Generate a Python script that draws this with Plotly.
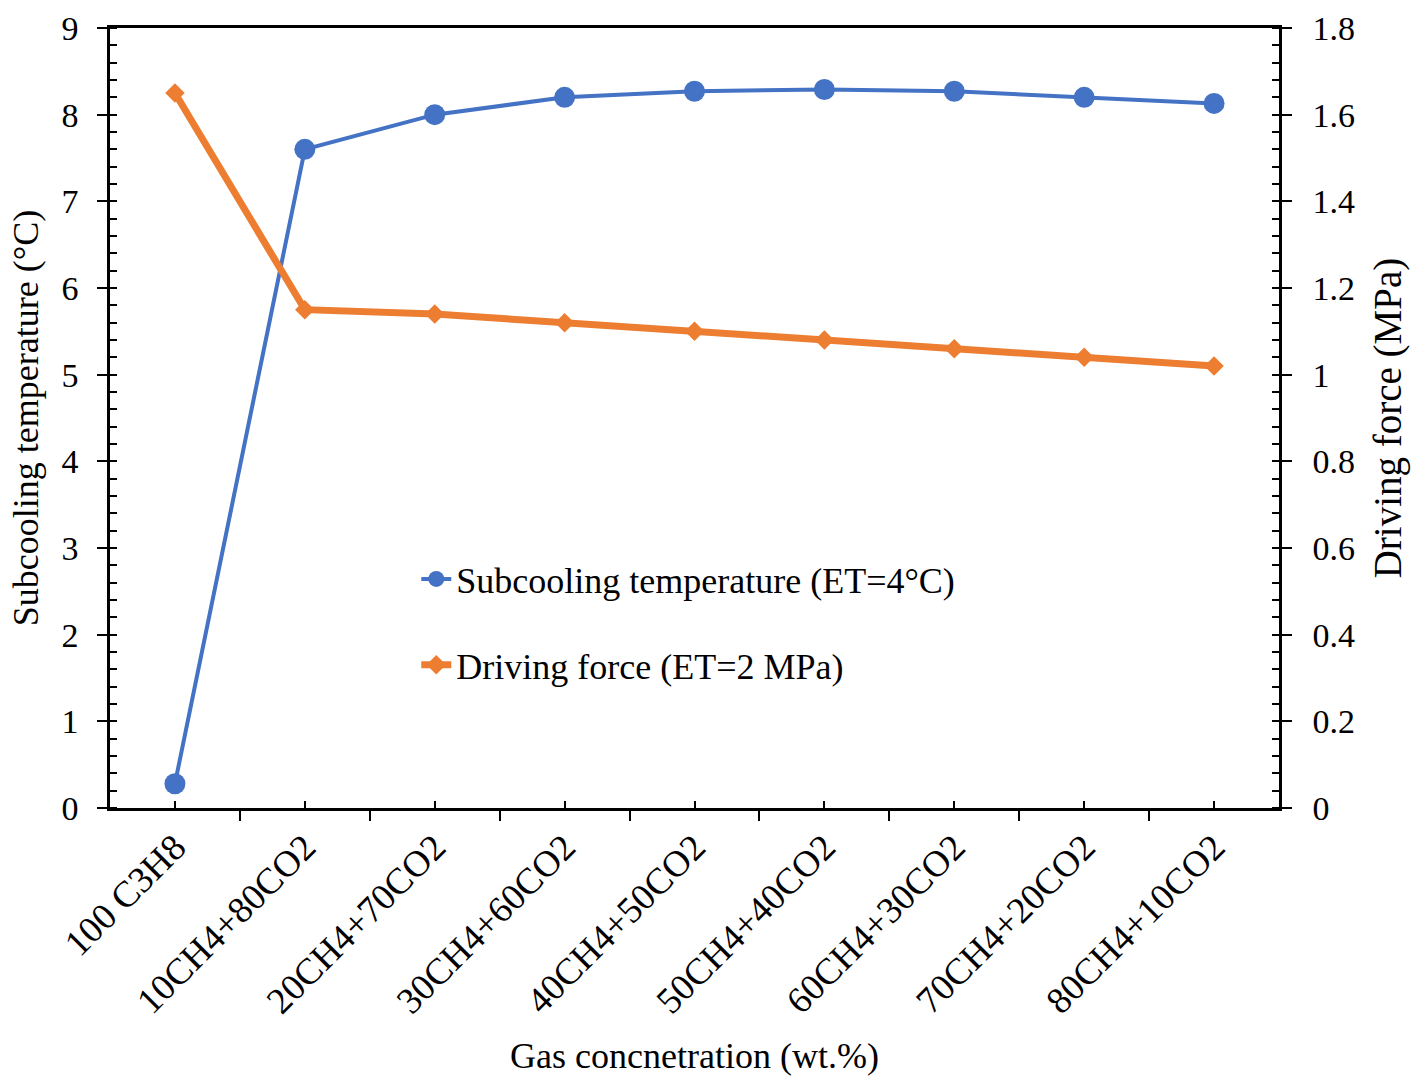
import plotly.graph_objects as go

categories = ["100 C3H8", "10CH4+80CO2", "20CH4+70CO2", "30CH4+60CO2", "40CH4+50CO2",
              "50CH4+40CO2", "60CH4+30CO2", "70CH4+20CO2", "80CH4+10CO2"]
subcooling = [0.28, 7.60, 8.00, 8.20, 8.27, 8.29, 8.27, 8.20, 8.13]
driving_force = [1.65, 1.15, 1.14, 1.12, 1.10, 1.08, 1.06, 1.04, 1.02]

xpos = list(range(len(categories)))
FONT = "Liberation Serif, Times New Roman, serif"

fig = go.Figure()
fig.add_trace(go.Scatter(
    x=xpos, y=subcooling, mode="lines+markers",
    name="Subcooling temperature (ET=4°C)",
    line=dict(color="#4472C4", width=4),
    marker=dict(symbol="circle", size=21, color="#4472C4"),
    legendgroup="a",
))
fig.add_trace(go.Scatter(
    x=xpos, y=driving_force, mode="lines+markers", yaxis="y2",
    name="Driving force (ET=2 MPa)",
    line=dict(color="#ED7D31", width=7),
    marker=dict(symbol="diamond", size=15, color="#ED7D31"),
    legendgroup="b",
))

fig.update_layout(
    width=1413, height=1076,
    margin=dict(l=110, r=134, t=28, b=268, pad=0, autoexpand=False),
    paper_bgcolor="white", plot_bgcolor="white",
    font=dict(family=FONT, size=34, color="black"),
    showlegend=True,
    legend=dict(x=0.262, y=0.332, xanchor="left", yanchor="top",
                font=dict(family=FONT, size=36, color="black"),
                bgcolor="rgba(0,0,0,0)", tracegroupgap=36, itemwidth=30),
    xaxis=dict(
        range=[-0.5, 8.5], tickmode="array", tickvals=xpos, ticktext=categories,
        tickangle=-45, ticks="inside", ticklen=7, tickwidth=2, tickcolor="black",
        minor=dict(tickmode="array", tickvals=[i - 0.5 for i in range(len(categories) + 1)],
                   ticks="outside", ticklen=10, tickwidth=2, tickcolor="black"),
        showline=True, linecolor="black", linewidth=2.5, mirror=True,
        showgrid=False, zeroline=False, automargin=False,
        tickfont=dict(family=FONT, size=37, color="black"),
        title=dict(text="Gas concnetration (wt.%)", font=dict(family=FONT, size=36), standoff=24),
    ),
    yaxis=dict(
        range=[0, 9], dtick=1, tick0=0, ticks="outside", ticklen=10, tickwidth=2, tickcolor="black",
        minor=dict(dtick=0.2, tick0=0, ticks="inside", ticklen=7, tickwidth=2, tickcolor="black"),
        showline=True, linecolor="black", linewidth=2.5,
        showgrid=False, zeroline=False, automargin=False,
        tickfont=dict(family=FONT, size=34, color="black"),
        ticklabelstandoff=12,
        title=dict(text="Subcooling temperature (°C)", font=dict(family=FONT, size=36), standoff=12),
    ),
    yaxis2=dict(
        range=[0, 1.8], dtick=0.2, tick0=0, overlaying="y", side="right",
        ticks="outside", ticklen=10, tickwidth=2, tickcolor="black",
        minor=dict(dtick=0.04, tick0=0, ticks="inside", ticklen=7, tickwidth=2, tickcolor="black"),
        showline=True, linecolor="black", linewidth=2.5,
        showgrid=False, zeroline=False, automargin=False,
        tickfont=dict(family=FONT, size=34, color="black"),
        ticklabelstandoff=14,
        title=dict(text="Driving force (MPa)", font=dict(family=FONT, size=39), standoff=20),
    ),
)

fig.write_html("out.html")
